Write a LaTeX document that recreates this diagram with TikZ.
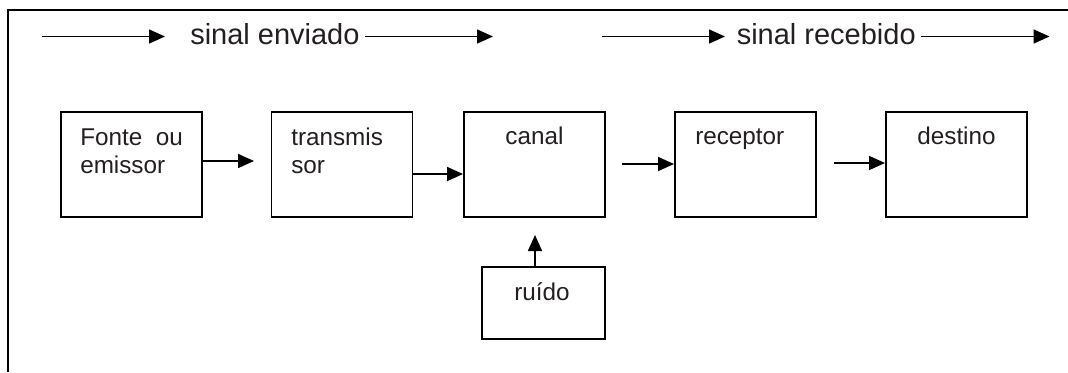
\documentclass[tikz,border=0pt]{standalone}
\usepackage{fontspec}
\setmainfont{Liberation Sans}
\usetikzlibrary{arrows.meta}
\definecolor{ink}{RGB}{35,31,32}
\begin{document}
\begin{tikzpicture}[x=0.75pt,y=-0.75pt,
  blk/.style={draw=black, line width=1.45pt, minimum width=105.75pt,
              minimum height=78.75pt, inner sep=0pt},
  txt/.style={font=\fontsize{18.2}{21}\selectfont, text=ink, inner sep=0pt},
  head/.style={font=\fontsize{21.75}{26}\selectfont, text=ink, inner sep=0pt,
               anchor=base west},
  conn/.style={draw=black, line width=1.2pt,
               -{Triangle[length=12pt,width=10.5pt]}}]
\useasboundingbox (0,0) rectangle (1068,372);

% frame (top and left edges)
\draw[line width=1.45pt] (8,372) -- (8,10) -- (1068,10);

% signal captions
\node[head] (env) at (190,44) {sinal enviado};
\node[head] (rec) at (736.5,44) {sinal recebido};
\coordinate (s1a) at (42,36.5);
\coordinate (s1b) at (165,36.5);
\coordinate (s2a) at (365,36.5);
\coordinate (s2b) at (493,36.5);
\coordinate (s3a) at (601.5,36.5);
\coordinate (s3b) at (725,36.5);
\coordinate (s4a) at (921,36.5);
\coordinate (s4b) at (1049.5,36.5);
\draw[conn] (s1a) -- (s1b);
\draw[conn] (s2a) -- (s2b);
\draw[conn] (s3a) -- (s3b);
\draw[conn] (s4a) -- (s4b);

% blocks of the chain
\node[blk] (fonte) at (131.5,164.5) {};
\node[blk] (trans) at (342,164.5) {};
\node[blk] (canal) at (534.5,164.5) {};
\node[blk] (recep) at (745.5,164.5) {};
\node[blk] (dest)  at (956.5,164.5) {};
\node[blk, minimum width=92.25pt, minimum height=54pt] (ruido) at (543.5,303) {};

% block texts
\node[txt, anchor=base west] (tf1) at (80,145) {Fonte\ \ ou};
\node[txt, anchor=base west] (tf2) at (80,173) {emissor};
\node[txt, anchor=base west] (tt1) at (291,145) {transmis};
\node[txt, anchor=base west] (tt2) at (291,173) {sor};
\node[txt, anchor=base] (tc) at (534.5,144) {canal};
\node[txt, anchor=base west] (tr) at (695,144) {receptor};
\node[txt, anchor=base] (td) at (956.5,144) {destino};
\node[txt, anchor=base] (tn) at (542,300) {ruído};

% connectors between blocks
\coordinate (y1) at (0,161);
\coordinate (y2) at (0,174);
\coordinate (y3) at (0,164);
\coordinate (y4) at (0,163);
\coordinate (a1end) at (254,161);
\coordinate (a3beg) at (622,164);
\coordinate (a4beg) at (834,163);
\coordinate (nx) at (535,0);
\coordinate (ntip) at (535,235);
\draw[conn] (fonte.east |- y1) -- (a1end);
\draw[conn] (trans.east |- y2) -- (canal.west |- y2);
\draw[conn] (a3beg) -- (recep.west |- y3);
\draw[conn] (a4beg) -- (dest.west |- y4);
\draw[conn] (ruido.north -| nx) -- (ntip);
\end{tikzpicture}
\end{document}
